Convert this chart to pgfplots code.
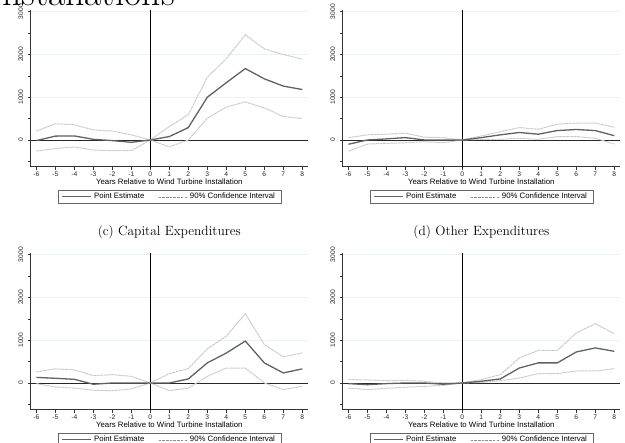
\documentclass[border=0pt]{standalone}
\usepackage{fontspec}
\newfontfamily\arial{Liberation Sans}
\usepackage{pgfplots}
\usepackage{pgfplotstable}
\pgfplotsset{compat=1.18}

\pgfplotstableread{
t pe up lo
-6 -15 210 -260
-5 90 380 -200
-4 95 355 -165
-3 15 235 -235
-2 -15 210 -250
-1 -55 120 -250
0 0 0 0
1 80 315 -160
2 290 590 0
3 1000 1470 510
4 1340 1900 770
5 1670 2460 890
6 1430 2130 750
7 1260 2000 550
8 1180 1890 500
}\dataA

\pgfplotstableread{
t pe up lo
-6 -100 55 -260
-5 0 120 -95
-4 25 135 -80
-3 55 160 -65
-2 0 65 -40
-1 0 55 -65
0 0 0 0
1 55 95 15
2 120 195 15
3 175 290 40
4 135 250 15
5 220 370 80
6 245 395 80
7 220 395 40
8 100 300 -95
}\dataB

\pgfplotstableread{
t pe up lo
-6 130 260 -15
-5 110 330 -95
-4 85 305 -120
-3 -30 170 -170
-2 0 195 -180
-1 0 155 -140
0 0 0 0
1 0 220 -180
2 95 335 -120
3 470 800 155
4 700 1095 350
5 980 1620 350
6 470 900 0
7 235 610 -155
8 330 705 -80
}\dataC

\pgfplotstableread{
t pe up lo
-6 -15 80 -120
-5 -40 70 -155
-4 -15 55 -125
-3 0 60 -100
-2 0 40 -80
-1 -30 0 -55
0 0 0 0
1 40 80 15
2 95 195 55
3 350 585 115
4 470 760 220
5 470 760 220
6 725 1170 280
7 820 1385 280
8 740 1155 335
}\dataD

\tikzset{
  pestyle/.style={black!62, line width=1.3pt},
  cistyle/.style={black!20, line width=1pt, dash pattern=on 3pt off 0.6pt},
  cilegend/.style={black!45, line width=0.6pt, dash pattern=on 2.5pt off 1.2pt},
}

\pgfplotsset{
  panel/.style={
    scale only axis, width=277.3pt, height=156.7pt,
    xmin=-6.3, xmax=8.3, ymin=-625, ymax=3040,
    axis x line*=bottom, axis y line*=left,
    axis line style={black!80, line width=0.6pt, -},
    xtick={-6,-5,...,8},
    xticklabels={-6,-5,-4,-3,-2,-1,0,1,2,3,4,5,6,7,8},
    ytick={0,1000,2000,3000},
    yticklabels={0,1000,2000,3000},
    minor ytick={-500,500,1500,2500},
    tick align=outside, major tick length=3pt, minor tick length=3pt,
    every tick/.style={black!80, line width=0.5pt},
    ymajorgrids,
    major grid style={draw={rgb,255:red,236;green,242;blue,242}, line width=0.7pt},
    /pgf/number format/assume math mode=true,
    tick label style={font=\arial\fontsize{6.7}{8}\selectfont, text=black!85},
    yticklabel style={rotate=90, anchor=south, inner ysep=4.2pt},
    xticklabel style={inner sep=1.8pt},
    xlabel={Years Relative to Wind Turbine Installation},
    xlabel style={font=\arial\fontsize{7.8}{9}\selectfont, at={(axis description cs:0.5,-0.0975)}, anchor=center, inner sep=0pt},
    legend columns=2,
    legend style={at={(axis description cs:0.5,-0.1487)}, anchor=north,
      draw=black!60, line width=0.5pt,
      font=\arial\fontsize{7.8}{9}\selectfont,
      inner xsep=4pt, inner ysep=1pt,
      /tikz/every even column/.append style={column sep=12pt}},
    legend image code/.code={\draw[##1] (0pt,0pt) -- (29pt,0pt);},
    title style={font=\fontsize{13.4}{16}\selectfont, at={(axis description cs:0.5,1.096)}, anchor=center, inner sep=0pt},
  },
}

\newcommand{\panelbody}[1]{%
  \draw[black!85, line width=0.9pt] (axis cs:-6.3,0) -- (axis cs:8.3,0);
  \draw[black, line width=0.6pt] (axis cs:0,-625) -- (axis cs:0,3040);
  \addplot[cistyle, forget plot] table[x=t, y=up] {#1};
  \addplot[cistyle, forget plot] table[x=t, y=lo] {#1};
  \addplot[pestyle] table[x=t, y=pe] {#1};
  \addlegendentry{Point Estimate}
  \addlegendimage{cilegend}
  \addlegendentry{90\% Confidence Interval}
}

\begin{document}
\begin{tikzpicture}
\useasboundingbox (0,0) rectangle (625pt,443pt);
\clip (0,0) rectangle (625pt,443pt);

\node[anchor=base east, inner sep=0pt, font=\fontsize{37.7}{40}\selectfont] at (175pt,437.5pt) {Installations};

\begin{axis}[panel, at={(30.7pt,276.3pt)}, anchor=south west]
\panelbody{\dataA}
\end{axis}

\begin{axis}[panel, at={(342.7pt,276.3pt)}, anchor=south west]
\panelbody{\dataB}
\end{axis}

\begin{axis}[panel, at={(30.7pt,33.3pt)}, anchor=south west, title={(c) Capital Expenditures}]
\panelbody{\dataC}
\end{axis}

\begin{axis}[panel, at={(342.7pt,33.3pt)}, anchor=south west, title={(d) Other Expenditures}]
\panelbody{\dataD}
\end{axis}
\end{tikzpicture}
\end{document}
